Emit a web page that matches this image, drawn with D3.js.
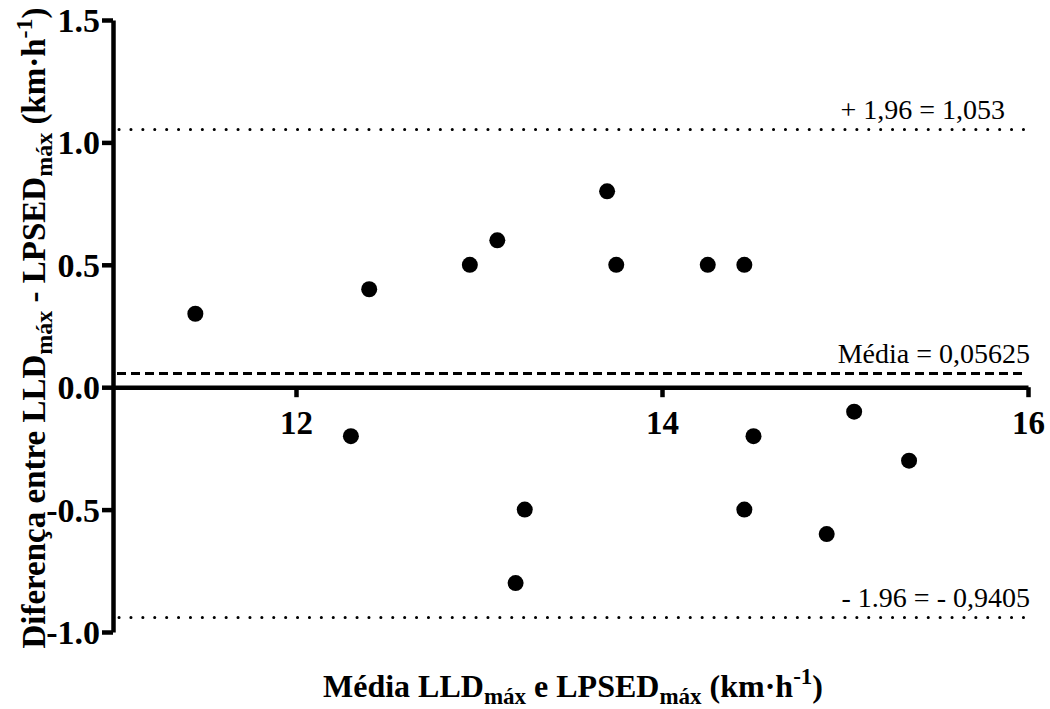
<!DOCTYPE html>
<html lang="en">
<head>
<meta charset="utf-8">
<title>Bland-Altman</title>
<script src="https://cdn.jsdelivr.net/npm/d3@7"></script>
<style>
  body { margin: 0; background: #fff; }
  svg text { font-family: "Times New Roman", "Liberation Serif", Tinos, serif; fill: #000; }
  .axis path, .axis line { stroke: #000; }
  .axis text { font-weight: bold; }
</style>
</head>
<body>
<script>
// data: mean of the two methods (x) and their difference (y)
const meanVals = [11.45, 12.30, 12.40, 12.95, 13.10, 13.25, 13.20, 13.70, 13.75, 14.25, 14.45, 14.45, 14.50, 14.90, 15.05, 15.35];
const diffVals = [0.3, -0.2, 0.4, 0.5, 0.6, -0.5, -0.8, 0.8, 0.5, 0.5, 0.5, -0.5, -0.2, -0.6, -0.1, -0.3];
const xTicks = [12, 14, 16];
const yTicks = [1.5, 1.0, 0.5, 0.0, -0.5, -1.0];
const biasVal = 0.05625;
const upperVal = 1.053;
const lowerVal = -0.9405;
const refLabels = ["+ 1,96 = 1,053", "Média = 0,05625", "- 1.96 = - 0,9405"];

const serif = '"Times New Roman", "Liberation Serif", Tinos, serif';
const width = 1050, height = 709;
const svg = d3.select("body").append("svg")
  .attr("width", width).attr("height", height);

const x = d3.scaleLinear().domain([11, 16]).range([113, 1028]);
const y = d3.scaleLinear().domain([-1.0, 1.5]).range([632, 20]);

// reference lines (limits of agreement and bias)
const refs = [
  {v: upperVal, dash: "0.1,11.8", w: 3, label: refLabels[0], lx: 1005},
  {v: biasVal, dash: "9,5", w: 3, label: refLabels[1], lx: 1030},
  {v: lowerVal, dash: "0.1,11.8", w: 3, label: refLabels[2], lx: 1030}
];
svg.append("g").selectAll("line")
  .data(refs)
  .join("line")
  .attr("x1", d => d.dash === "9,5" ? x(11) + 4 : x(11) + 6).attr("x2", x(16) - 2)
  .attr("y1", d => y(d.v)).attr("y2", d => y(d.v))
  .attr("stroke", "#000")
  .attr("stroke-width", d => d.w)
  .attr("stroke-dasharray", d => d.dash)
  .attr("stroke-linecap", d => d.dash === "9,5" ? "butt" : "round");

svg.append("g").selectAll("text")
  .data(refs)
  .join("text")
  .attr("x", d => d.lx)
  .attr("y", d => y(d.v) - 10)
  .attr("text-anchor", "end")
  .attr("font-family", serif)
  .attr("font-size", 28)
  .text(d => d.label);

// y axis
const yAxis = svg.append("g")
  .attr("class", "axis")
  .attr("transform", `translate(${x(11)},0)`)
  .call(d3.axisLeft(y).tickValues(yTicks)
    .tickFormat(d => d3.format(".1f")(d).replace("−", "-"))
    .tickSize(11).tickSizeOuter(0));
yAxis.attr("font-family", serif).attr("font-size", 34);
yAxis.select(".domain").attr("stroke-width", 4.5);
yAxis.selectAll(".tick line").attr("stroke-width", 4.5);
yAxis.selectAll(".tick text").attr("x", -13).attr("dy", "0.34em");

// x axis at y = 0
const xAxis = svg.append("g")
  .attr("class", "axis")
  .attr("transform", `translate(0,${y(0)})`)
  .call(d3.axisBottom(x).tickValues(xTicks).tickFormat(d3.format("d")).tickSize(10).tickSizeOuter(0));
xAxis.attr("font-family", serif).attr("font-size", 33);
xAxis.select(".domain").attr("stroke-width", 4.5);
xAxis.selectAll(".tick line").attr("stroke-width", 4.5);
xAxis.selectAll(".tick text").attr("y", 23);

// points
svg.append("g").selectAll("circle")
  .data(meanVals.map((m, i) => [m, diffVals[i]]))
  .join("circle")
  .attr("cx", d => x(d[0]))
  .attr("cy", d => y(d[1]))
  .attr("r", 8)
  .attr("fill", "#000");

// axis titles with sub/superscripts
function richTitle(t, parts, sub) {
  parts.forEach(p => {
    const ts = t.append("tspan").text(p.t);
    if (p.sub) ts.attr("font-size", sub).attr("dy", 7);
    else if (p.sup) ts.attr("font-size", sub).attr("dy", -13);
    else if (p.back) ts.attr("dy", p.back);
  });
}

const xt = svg.append("text")
  .attr("x", 573).attr("y", 697)
  .attr("text-anchor", "middle")
  .attr("font-family", serif)
  .attr("font-size", 32).attr("font-weight", "bold");
richTitle(xt, [
  {t: "Média LLD"}, {t: "máx", sub: true}, {t: " e LPSED", back: -7},
  {t: "máx", sub: true}, {t: " (km·h", back: -7}, {t: "-1", sup: true}, {t: ")", back: 13}
], 23);

const yt = svg.append("text")
  .attr("transform", "translate(45,328) rotate(-90)")
  .attr("text-anchor", "middle")
  .attr("font-family", serif)
  .attr("font-size", 33).attr("font-weight", "bold");
richTitle(yt, [
  {t: "Diferença entre LLD"}, {t: "máx", sub: true}, {t: " - LPSED", back: -7},
  {t: "máx", sub: true}, {t: " (km·h", back: -7}, {t: "-1", sup: true}, {t: ")", back: 13}
], 24);
</script>
</body>
</html>
